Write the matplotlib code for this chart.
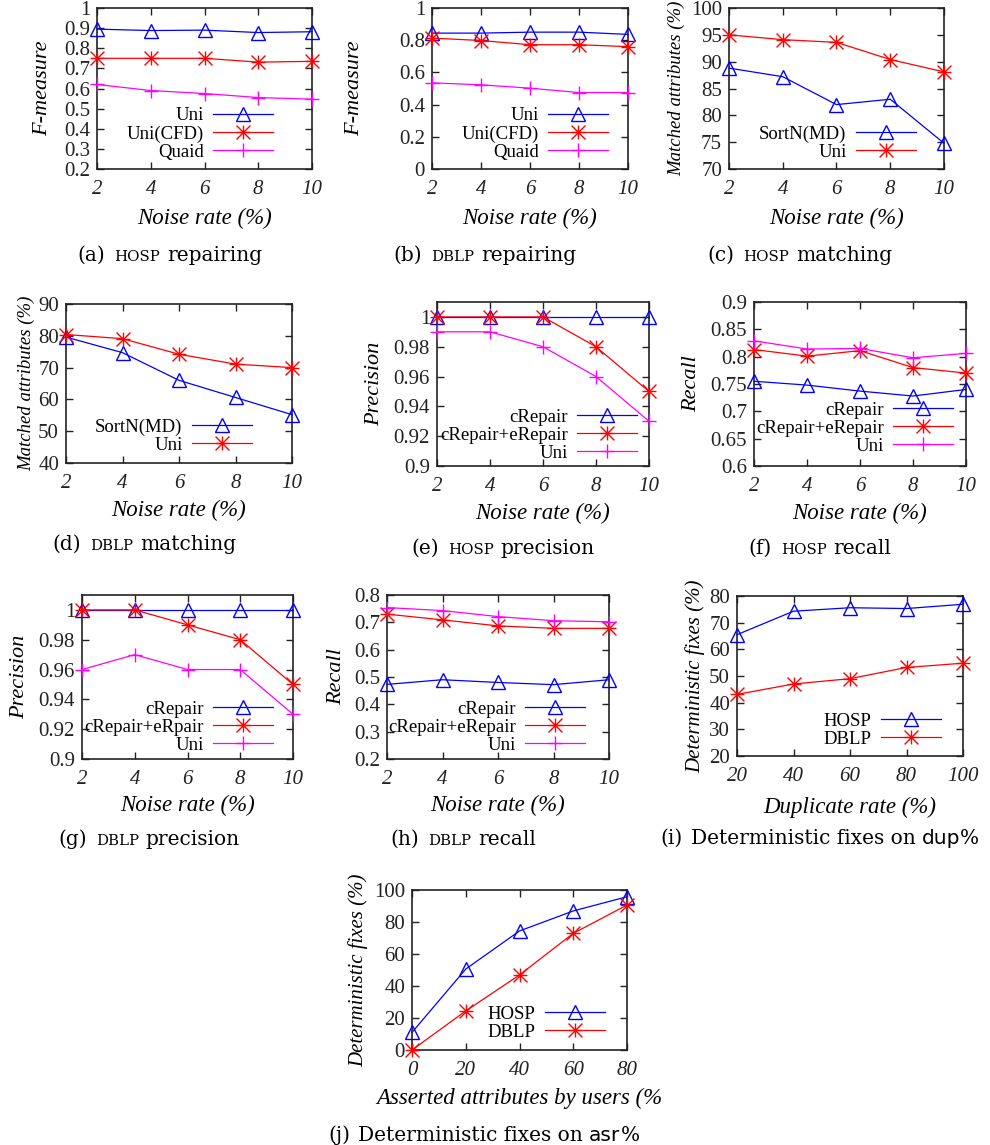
import matplotlib
matplotlib.use('Agg')
import matplotlib.pyplot as plt
from matplotlib.path import Path

plt.rcParams['font.family'] = ['Liberation Serif', 'DejaVu Serif']

# ---------------- data ----------------
noise = [2, 4, 6, 8, 10]
dup_rate = [20, 40, 60, 80, 100]
asr_rate = [0, 20, 40, 60, 80]

a_uni = [0.895, 0.888, 0.890, 0.878, 0.882]
a_unicfd = [0.750, 0.750, 0.750, 0.731, 0.735]
a_quaid = [0.620, 0.590, 0.575, 0.555, 0.547]

b_uni = [0.844, 0.844, 0.850, 0.850, 0.836]
b_unicfd = [0.813, 0.798, 0.772, 0.772, 0.760]
b_quaid = [0.535, 0.523, 0.502, 0.475, 0.475]

c_sortn = [88.8, 87.2, 82.0, 83.0, 74.8]
c_uni = [95.0, 94.1, 93.6, 90.4, 88.1]

d_sortn = [79.6, 74.7, 66.0, 60.6, 55.2]
d_uni = [80.4, 79.1, 74.2, 71.1, 70.0]

e_crepair = [1.0, 1.0, 1.0, 1.0, 1.0]
e_cerepair = [1.0, 1.0, 1.0, 0.98, 0.95]
e_uni = [0.99, 0.99, 0.98, 0.96, 0.93]

f_crepair = [0.755, 0.748, 0.737, 0.728, 0.740]
f_cerepair = [0.813, 0.801, 0.811, 0.780, 0.770]
f_uni = [0.829, 0.814, 0.815, 0.798, 0.806]

g_crepair = [1.0, 1.0, 1.0, 1.0, 1.0]
g_cerpair = [1.0, 1.0, 0.99, 0.98, 0.95]
g_uni = [0.96, 0.97, 0.96, 0.96, 0.93]

h_crepair = [0.473, 0.490, 0.480, 0.472, 0.490]
h_cerepair = [0.730, 0.709, 0.687, 0.678, 0.678]
h_uni = [0.754, 0.743, 0.721, 0.706, 0.702]

i_hosp = [65.5, 74.3, 75.6, 75.3, 76.9]
i_dblp = [43.1, 47.0, 49.0, 53.2, 54.8]

j_hosp = [11.0, 50.6, 74.4, 86.9, 95.8]
j_dblp = [0.0, 24.4, 46.9, 72.9, 90.6]

yt_a = [0.2, 0.3, 0.4, 0.5, 0.6, 0.7, 0.8, 0.9, 1.0]
yt_b = [0, 0.2, 0.4, 0.6, 0.8, 1.0]
yt_c = [70, 75, 80, 85, 90, 95, 100]
yt_d = [40, 50, 60, 70, 80, 90]
yt_e = [0.9, 0.92, 0.94, 0.96, 0.98, 1.0]
yt_f = [0.6, 0.65, 0.7, 0.75, 0.8, 0.85, 0.9]
yt_h = [0.2, 0.3, 0.4, 0.5, 0.6, 0.7, 0.8]
yt_i = [20, 30, 40, 50, 60, 70, 80]
yt_j = [0, 20, 40, 60, 80, 100]

# ---------------- styles ----------------
W, H = 990, 1145
fig = plt.figure(figsize=(W / 100, H / 100), dpi=100)

STAR = Path([(-1, 0), (1, 0), (0, -1), (0, 1), (-1, -1), (1, 1), (-1, 1), (1, -1)],
            [Path.MOVETO, Path.LINETO] * 4)
STY = {
    'blue': dict(color='#0000ff', marker='^', mfc='none', mec='#0000ff', ms=10, mew=1.0),
    'red': dict(color='#ff0000', marker=STAR, mec='#ff0000', ms=10, mew=1.0),
    'mag': dict(color='#ff00ff', marker='+', mec='#ff00ff', ms=10, mew=1.0),
}


def fmt(v):
    return ('%g' % v)


def make_axes(box, x, xticks, ylim, yticks, xlabel, ylabel, xlab_y, ylab_x,
              series, leg_anchor, ylab_size=16, xlim=None):
    l, t, r, b = box
    ax = fig.add_axes([l / W, 1 - b / H, (r - l) / W, (b - t) / H])
    handles = []
    labels = []
    for vals, sty, lab in series:
        ln, = ax.plot(x, vals, lw=0.9, clip_on=False, zorder=3, **STY[sty])
        handles.append(ln)
        labels.append(lab)
    ax.set_xlim(xlim if xlim else (x[0], x[-1]))
    ax.set_ylim(*ylim)
    ax.set_xticks(xticks, labels=[fmt(v) for v in xticks], fontstyle='italic')
    ax.set_yticks(yticks, labels=[fmt(v) for v in yticks])
    ax.tick_params(direction='in', length=5, width=1.0, top=True, right=True,
                   labelsize=15, colors='#222222')
    ax.tick_params(axis='x', pad=8)
    ax.tick_params(axis='y', pad=5)
    for s in ax.spines.values():
        s.set_linewidth(1.2)
        s.set_color('#222222')
    ax.set_xlabel(xlabel, fontstyle='italic', fontsize=16.5, va='center')
    ax.xaxis.set_label_coords(((l + r) / 2) / W, 1 - xlab_y / H, transform=fig.transFigure)
    ax.set_ylabel(ylabel, fontstyle='italic', fontsize=ylab_size, va='center')
    ax.yaxis.set_label_coords(ylab_x / W, 1 - ((t + b) / 2) / H, transform=fig.transFigure)
    ax.legend(handles, labels, loc='center right',
              bbox_to_anchor=(leg_anchor[0] / W, 1 - leg_anchor[1] / H),
              bbox_transform=fig.transFigure, frameon=False, markerfirst=False,
              handlelength=3.2, handletextpad=0.5, labelspacing=0.05,
              borderpad=0, borderaxespad=0, fontsize=13.5)
    return ax


NR = 'Noise rate (%)'
make_axes((97, 8, 312, 169), noise, noise, (0.2, 1.0), yt_a, NR, 'F-measure', 218, 43,
          [(a_uni, 'blue', 'Uni'), (a_unicfd, 'red', 'Uni(CFD)'), (a_quaid, 'mag', 'Quaid')],
          (273, 134))
make_axes((432, 8, 628, 169), noise, noise, (0, 1.0), yt_b, NR, 'F-measure', 218, 355,
          [(b_uni, 'blue', 'Uni'), (b_unicfd, 'red', 'Uni(CFD)'), (b_quaid, 'mag', 'Quaid')],
          (608, 134))
make_axes((729, 8, 944, 169), noise, noise, (70, 100), yt_c, NR, 'Matched attributes (%)', 218, 677,
          [(c_sortn, 'blue', 'SortN(MD)'), (c_uni, 'red', 'Uni')],
          (916, 143), ylab_size=13.5)
make_axes((66, 304, 292, 463), noise, noise, (40, 90), yt_d, NR, 'Matched attributes (%)', 510, 27,
          [(d_sortn, 'blue', 'SortN(MD)'), (d_uni, 'red', 'Uni')],
          (252, 436), ylab_size=13.5)
make_axes((437, 302, 649, 466), noise, noise, (0.9, 1.01), yt_e, NR, 'Precision', 513, 375,
          [(e_crepair, 'blue', 'cRepair'), (e_cerepair, 'red', 'cRepair+eRepair'), (e_uni, 'mag', 'Uni')],
          (637, 435))
make_axes((754, 302, 966, 466), noise, noise, (0.6, 0.9), yt_f, NR, 'Recall', 513, 692,
          [(f_crepair, 'blue', 'cRepair'), (f_cerepair, 'red', 'cRepair+eRepair'), (f_uni, 'mag', 'Uni')],
          (953, 428))
make_axes((82, 595, 293, 759), noise, noise, (0.9, 1.01), yt_e, NR, 'Precision', 805, 20,
          [(g_crepair, 'blue', 'cRepair'), (g_cerpair, 'red', 'cRepair+eRpair'), (g_uni, 'mag', 'Uni')],
          (273, 727))
make_axes((387, 595, 609, 759), noise, noise, (0.2, 0.8), yt_h, NR, 'Recall', 805, 337,
          [(h_crepair, 'blue', 'cRepair'), (h_cerepair, 'red', 'cRepair+eRepair'), (h_uni, 'mag', 'Uni')],
          (585, 727))
make_axes((737, 596, 963, 756), dup_rate, dup_rate, (20, 80), yt_i, 'Duplicate rate (%)',
          'Deterministic fixes (%)', 807, 695,
          [(i_hosp, 'blue', 'HOSP'), (i_dblp, 'red', 'DBLP')],
          (941, 730), ylab_size=15)
make_axes((412, 890, 627, 1050), asr_rate, asr_rate, (0, 100), yt_j, 'Asserted attributes by users (%',
          'Deterministic fixes (%)', 1098, 358,
          [(j_hosp, 'blue', 'HOSP'), (j_dblp, 'red', 'DBLP')],
          (605, 1023), ylab_size=15)

# ---------------- captions ----------------
renderer = fig.canvas.get_renderer()
CAP = 14.5
SC = 10.8
SERIF = 'DejaVu Serif'
SANS = 'DejaVu Sans'


def caption(cx_px, y_px, pieces):
    texts = []
    widths = []
    for s, fs, fam, gap in pieces:
        t = fig.text(0, 1 - y_px / H, s, fontsize=fs, family=fam, ha='left', va='baseline')
        widths.append(t.get_window_extent(renderer=renderer).width)
        texts.append((t, gap))
    total = sum(widths) + sum(g for _, g in texts[:-1])
    x = cx_px - total / 2
    for (t, gap), w in zip(texts, widths):
        t.set_x(x / W)
        x += w + gap


def sub(lbl, name, rest):
    return [(lbl, CAP, SERIF, 9), (name, SC, SERIF, 7), (rest, CAP, SERIF, 0)]


caption(170, 261, sub('(a)', 'HOSP', 'repairing'))
caption(485, 261, sub('(b)', 'DBLP', 'repairing'))
caption(800, 261, sub('(c)', 'HOSP', 'matching'))
caption(144, 550, sub('(d)', 'DBLP', 'matching'))
caption(503, 554, sub('(e)', 'HOSP', 'precision'))
caption(820, 554, sub('(f)', 'HOSP', 'recall'))
caption(149, 845, sub('(g)', 'DBLP', 'precision'))
caption(463, 845, sub('(h)', 'DBLP', 'recall'))
caption(820, 844, [('(i)', CAP, SERIF, 8), ('Deterministic fixes on', CAP, SERIF, 6),
                   ('dup', CAP, SANS, 0), ('%', CAP, SERIF, 0)])
caption(484, 1141, [('(j)', CAP, SERIF, 8), ('Deterministic fixes on', CAP, SERIF, 6),
                    ('asr', CAP, SANS, 0), ('%', CAP, SERIF, 0)])

fig.savefig('out.png', dpi=100)
